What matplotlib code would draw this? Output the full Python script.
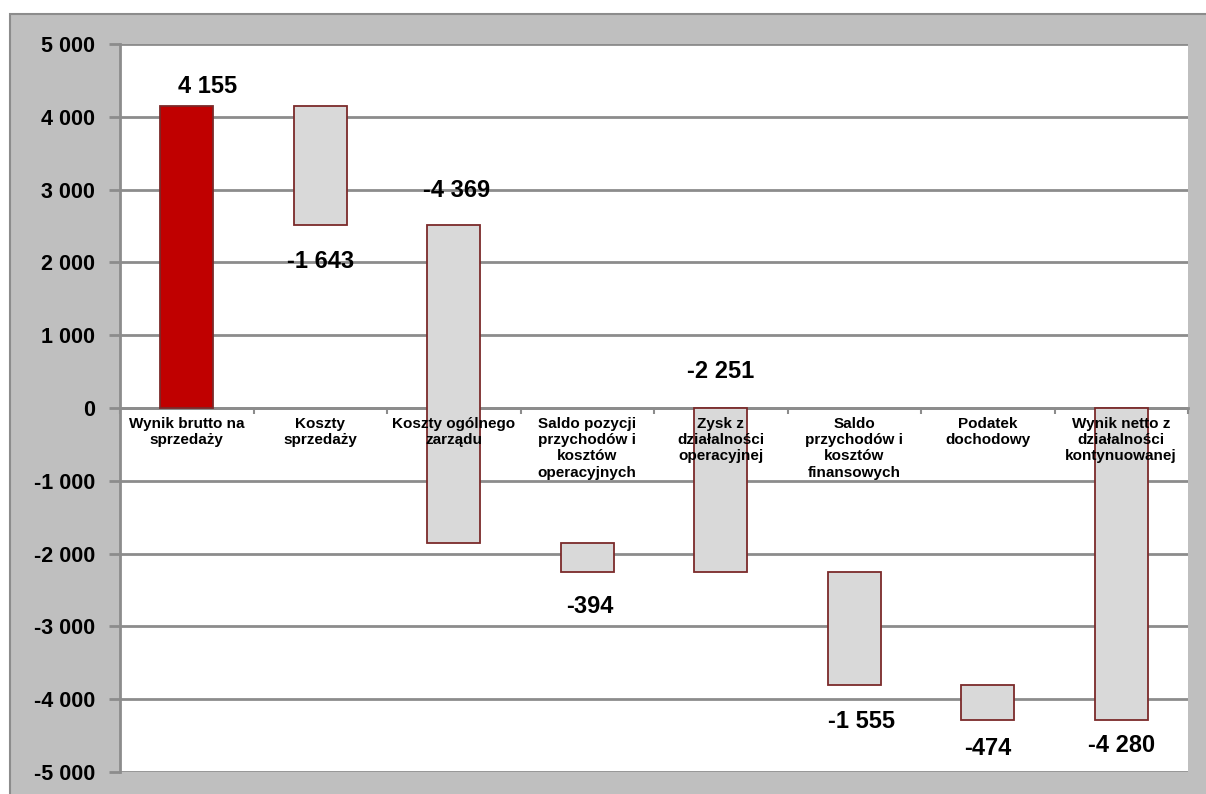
"""Waterfall: wynik netto z działalności kontynuowanej."""

import numpy as np
import matplotlib.pyplot as plt
from matplotlib.patches import Rectangle
from matplotlib.ticker import FuncFormatter

categories = ['Wynik brutto na\nsprzedaży', 'Koszty\nsprzedaży',
              'Koszty ogólnego\nzarządu',
              'Saldo pozycji\nprzychodów i\nkosztów\noperacyjnych',
              'Zysk z\ndziałalności\noperacyjnej',
              'Saldo\nprzychodów i\nkosztów\nfinansowych',
              'Podatek\ndochodowy',
              'Wynik netto z\ndziałalności\nkontynuowanej']
values = [4155, -1643, -4369, -394, -2251, -1555, -474, -4280]
is_total = [True, False, False, False, True, False, False, True]
yticks = np.arange(-5000, 5001, 1000)

NUM_FONT = 'Liberation Sans'


def fmt(v, pos=None):
    s = f'{abs(int(v)):,}'.replace(',', ' ')
    return ('-' if v < 0 else '') + s


# running totals -> bar bottoms / tops
lows, highs = [], []
run = 0
for v, tot in zip(values, is_total):
    if tot:
        lo, hi = min(0, v), max(0, v)
        run = v
    else:
        lo, hi = min(run, run + v), max(run, run + v)
        run += v
    lows.append(lo)
    highs.append(hi)
lows = np.array(lows)
highs = np.array(highs)

fig = plt.figure(figsize=(12.06, 7.94), dpi=100)
fig.patches.append(Rectangle((10 / 1206, -0.01), 1.0, 1 - 14 / 794 + 0.01,
                             transform=fig.transFigure, facecolor='#bfbfbf',
                             edgecolor='#8c8c8c', linewidth=1.5, zorder=-1))
ax = fig.add_axes([120 / 1206, 1 - 772 / 794, (1188 - 120) / 1206,
                   (772 - 44) / 794])
ax.set_facecolor('white')

x = np.arange(len(values))
colors = ['#c00000'] + ['#d9d9d9'] * (len(values) - 1)
ax.bar(x, highs - lows, bottom=lows, width=0.4, color=colors,
       edgecolor='#7b2a2a', linewidth=1.3, zorder=3)

ax.set_xlim(-0.5, len(values) - 0.5)
ax.set_ylim(-5000, 5000)
ax.set_yticks(yticks)
ax.yaxis.set_major_formatter(FuncFormatter(fmt))
ax.set_axisbelow(True)
ax.yaxis.grid(True, color='#8c8c8c', linewidth=2)

for side in ['top', 'right']:
    ax.spines[side].set_visible(False)
ax.spines['left'].set_color('#8c8c8c')
ax.spines['left'].set_linewidth(2)
ax.spines['bottom'].set_position(('data', 0))
ax.spines['bottom'].set_color('#8c8c8c')
ax.spines['bottom'].set_linewidth(2)

ax.set_xticks(np.arange(len(values) + 1) - 0.5)
ax.set_xticklabels([])
ax.tick_params(axis='x', length=4, width=1.5, color='#8c8c8c',
               direction='out')
ax.tick_params(axis='y', length=8, width=2, color='#8c8c8c', pad=10)
for lab in ax.get_yticklabels():
    lab.set_fontfamily(NUM_FONT)
    lab.set_fontweight('bold')
    lab.set_fontsize(15.5)

# category labels over the bars
for i, cat in enumerate(categories):
    ax.annotate(cat, (i, 0), xytext=(0, -6.5), textcoords='offset points',
                ha='center', va='top', fontsize=11, fontweight='bold',
                family='Liberation Sans', linespacing=1.2, zorder=6)

# data labels
label_side = ['top', 'bottom', 'top', 'bottom', 'top', 'bottom', 'bottom',
              'bottom']
label_off = [14, 26, 25, 25, 26, 26, 21, 19]
label_dx = [15, 0, 2, 2, 0, 5, 0, 0]
for i, v in enumerate(values):
    if label_side[i] == 'top':
        y, dy = highs[i], label_off[i]
    else:
        y, dy = lows[i], -label_off[i]
    ax.annotate(fmt(v), (i, y), xytext=(label_dx[i], dy),
                textcoords='offset points', ha='center', va='center',
                fontsize=17, fontweight='bold', family=NUM_FONT, zorder=6)

fig.savefig('out.png', dpi=100)
